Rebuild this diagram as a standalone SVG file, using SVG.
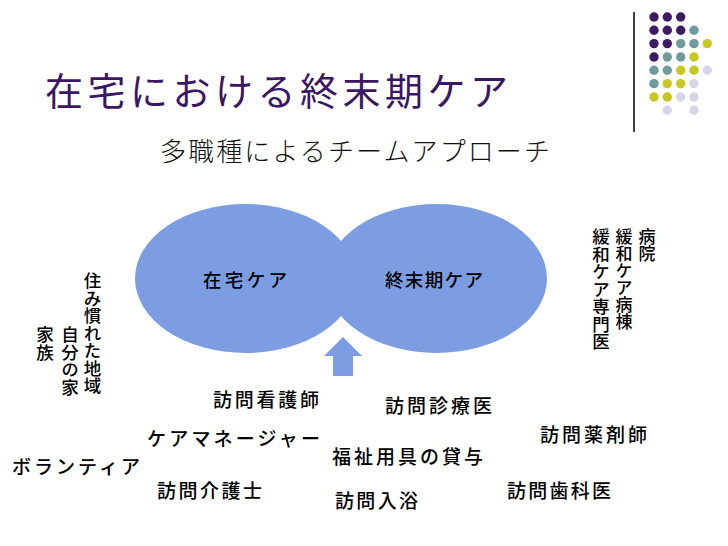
<svg xmlns="http://www.w3.org/2000/svg" width="728" height="546" viewBox="0 0 728 546">
<style>
.jp{font-family:"Noto Sans CJK JP","Noto Sans CJK SC",sans-serif;fill:#000;font-weight:500}
.lbl{font-size:19px}
.vt{font-size:17.5px;writing-mode:vertical-rl}
.P{fill:#3d1a63}.T{fill:#6e9c9e}.Y{fill:#c6c722}.L{fill:#d6d6e8}
.blob{fill:#7d9de2}
</style>
<rect width="728" height="546" fill="#fff"/>
<g id="decor">
<line x1="634" y1="12" x2="634" y2="132" stroke="#000" stroke-width="1.5"/>
<g id="dots">
<circle class="P" cx="654" cy="17" r="4.7"/><circle class="P" cx="667.3" cy="17" r="4.7"/><circle class="P" cx="680.7" cy="17" r="4.7"/>
<circle class="P" cx="654" cy="30.3" r="4.7"/><circle class="P" cx="667.3" cy="30.3" r="4.7"/><circle class="P" cx="680.7" cy="30.3" r="4.7"/><circle class="T" cx="694" cy="30.3" r="4.7"/>
<circle class="P" cx="654" cy="43.6" r="4.7"/><circle class="P" cx="667.3" cy="43.6" r="4.7"/><circle class="T" cx="680.7" cy="43.6" r="4.7"/><circle class="T" cx="694" cy="43.6" r="4.7"/><circle class="Y" cx="707.3" cy="43.6" r="4.7"/>
<circle class="P" cx="654" cy="57" r="4.7"/><circle class="T" cx="667.3" cy="57" r="4.7"/><circle class="T" cx="680.7" cy="57" r="4.7"/><circle class="Y" cx="694" cy="57" r="4.7"/>
<circle class="T" cx="654" cy="70.3" r="4.7"/><circle class="T" cx="667.3" cy="70.3" r="4.7"/><circle class="Y" cx="680.7" cy="70.3" r="4.7"/><circle class="Y" cx="694" cy="70.3" r="4.7"/><circle class="L" cx="707.3" cy="70.3" r="4.7"/>
<circle class="T" cx="654" cy="83.6" r="4.7"/><circle class="Y" cx="667.3" cy="83.6" r="4.7"/><circle class="Y" cx="680.7" cy="83.6" r="4.7"/><circle class="L" cx="694" cy="83.6" r="4.7"/>
<circle class="Y" cx="654" cy="97" r="4.7"/><circle class="Y" cx="667.3" cy="97" r="4.7"/><circle class="L" cx="680.7" cy="97" r="4.7"/><circle class="L" cx="694" cy="97" r="4.7"/>
<circle class="L" cx="667.3" cy="110.3" r="4.7"/><circle class="L" cx="694" cy="110.3" r="4.7"/>
</g>
</g>
<text id="title" x="45" y="105" font-family="'Noto Sans CJK JP','Noto Sans CJK SC',sans-serif" font-size="38" fill="#3b1763" textLength="463" lengthAdjust="spacing">在宅における終末期ケア</text>
<text id="subtitle" x="160" y="161" font-family="'Liberation Serif','Noto Sans CJK JP',serif" font-size="26" fill="#111" textLength="390" lengthAdjust="spacing" font-weight="300">多職種によるチームアプローチ</text>
<g id="home-care">
<ellipse class="blob" cx="245.5" cy="278.5" rx="110.5" ry="74.5"/>
<text class="jp" x="203" y="287" font-size="18.5" textLength="84" lengthAdjust="spacing">在宅ケア</text>
</g>
<g id="terminal-care">
<ellipse class="blob" cx="436.5" cy="278.5" rx="110.5" ry="74.5"/>
<text class="jp" x="385" y="287" font-size="18.5" textLength="98" lengthAdjust="spacing">終末期ケア</text>
</g>
<g id="connectors">
<polygon class="blob" points="343,337 362,356 353,356 353,376 333,376 333,356 324,356"/>
</g>
<g id="left-labels">
<text class="jp vt" x="92.5" y="272">住み慣れた地域</text>
<text class="jp vt" x="70" y="326">自分の家</text>
<text class="jp vt" x="45" y="326">家族</text>
</g>
<g id="right-labels">
<text class="jp vt" x="647" y="228" style="font-size:17px">病院</text>
<text class="jp vt" x="624" y="228" style="font-size:17px">緩和ケア病棟</text>
<text class="jp vt" x="601" y="228" style="font-size:17.5px">緩和ケア専門医</text>
</g>
<g id="team">
<text id="n1" class="jp lbl" x="213" y="407" textLength="106" lengthAdjust="spacing">訪問看護師</text>
<text id="n2" class="jp lbl" x="385" y="413" textLength="107" lengthAdjust="spacing">訪問診療医</text>
<text id="n3" class="jp lbl" x="147" y="446" textLength="173" lengthAdjust="spacing">ケアマネージャー</text>
<text id="n4" class="jp lbl" x="540" y="442" textLength="107" lengthAdjust="spacing">訪問薬剤師</text>
<text id="n5" class="jp lbl" x="332" y="464" textLength="151" lengthAdjust="spacing">福祉用具の貸与</text>
<text id="n6" class="jp lbl" x="12" y="474" textLength="128" lengthAdjust="spacing">ボランティア</text>
<text id="n7" class="jp lbl" x="157" y="498" textLength="105" lengthAdjust="spacing">訪問介護士</text>
<text id="n8" class="jp lbl" x="507" y="498" textLength="104" lengthAdjust="spacing">訪問歯科医</text>
<text id="n9" class="jp lbl" x="335" y="508" textLength="83" lengthAdjust="spacing">訪問入浴</text>
</g>
</svg>
